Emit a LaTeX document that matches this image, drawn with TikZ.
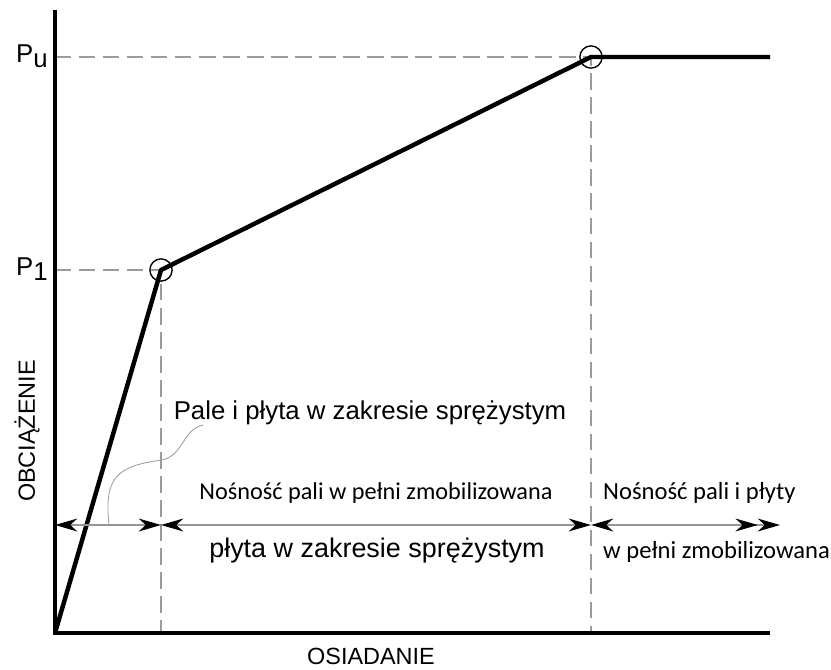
\documentclass[tikz,border=0pt]{standalone}
\usepackage{fontspec}
\setmainfont{Liberation Sans}
\newfontfamily\narrowfont{Carlito}
\usetikzlibrary{arrows.meta}

\definecolor{guideColor}{RGB}{155,155,155}
\definecolor{spanColor}{RGB}{150,150,150}

\tikzset{
  axisline/.style={line width=3.6pt},
  curveline/.style={line width=3.8pt, line join=round},
  guideline/.style={draw=guideColor, line width=2pt, dash pattern=on 14pt off 6.5pt},
  spanline/.style={draw=spanColor, line width=1.3pt},
  spantip/.tip={Stealth[black, length=19pt, width=11pt, inset=6pt]},
  marker/.style={circle, draw, line width=1.2pt, minimum size=19pt, inner sep=0pt},
  leader/.style={draw=guideColor, line width=0.7pt}
}

\begin{document}
\begin{tikzpicture}[x=0.03cm, y=-0.03cm]
  \useasboundingbox (0,0) rectangle (831,670);
  % Points of the curve
  \coordinate (origin) at (55,633);
  \coordinate (yTop) at (55,10);
  \coordinate (xEnd) at (770,633);
  \node[marker] (pOne) at (161,270) {};
  \node[marker] (pU) at (591,57) {};
  \coordinate (flatEnd) at (770,57);
  \coordinate (pOneFoot) at (161,633);
  \coordinate (pUFoot) at (591,633);
  % Guides
  \draw[guideline] (55,57) -- (pU.center) -- (pUFoot);
  \draw[guideline] (55,270) -- (pOne.center) -- (pOneFoot);
  % Axes
  \draw[axisline] (yTop) -- (origin) -- (xEnd);
  \node[font=\fontsize{22}{24}\selectfont, anchor=east, inner sep=0pt] (labU) at (48,56) {P\raisebox{-0.2em}{u}};
  \node[font=\fontsize{22}{24}\selectfont, anchor=east, inner sep=0pt] (labOne) at (48,269) {P\raisebox{-0.2em}{1}};
  \node[font=\fontsize{20}{22}\selectfont, rotate=90] (labLoad) at (27,431) {OBCIĄŻENIE};
  \node[font=\fontsize{20}{22}\selectfont] (labSettle) at (371,656) {OSIADANIE};
  % Curve
  \draw[curveline] (origin) -- (pOne.center) -- (pU.center) -- (flatEnd);
  % Spans
  \coordinate (s0) at (55,525);
  \coordinate (s1) at (161,525);
  \coordinate (s2) at (591,525);
  \coordinate (s3) at (780,525);
  \draw[spanline, {spantip}-{spantip}] (s0) -- (s1);
  \draw[spanline, {spantip}-{spantip}] (s1) -- (s2);
  \draw[spanline, {spantip}-{spantip[] spantip[]}] (s2) -- (s3);
  % Texts
  \node[font=\fontsize{22}{24}\selectfont] (txtElastic) at (370,413) {Pale i płyta w zakresie sprężystym};
  \node[font=\narrowfont\fontsize{20.7}{23}\selectfont] (txtPiles) at (376,493) {Nośność pali w pełni zmobilizowana};
  \node[font=\fontsize{23}{25}\selectfont] (txtSlab) at (377,551) {płyta w zakresie sprężystym};
  \node[font=\narrowfont\fontsize{21}{23}\selectfont, anchor=west, inner sep=0pt] (txtAll) at (603,493) {Nośność pali i płyty};
  \node[font=\narrowfont\fontsize{21}{23}\selectfont, anchor=west, inner sep=0pt] (txtFull) at (603,552) {w pełni zmobilizowana};
  % Leader
  \coordinate (leadEnd) at (203,425);
  \draw[leader] (109,525) .. controls (104,478) and (116,466) .. (162,460)
    .. controls (184,455) and (182,430) .. (leadEnd);
\end{tikzpicture}
\end{document}
